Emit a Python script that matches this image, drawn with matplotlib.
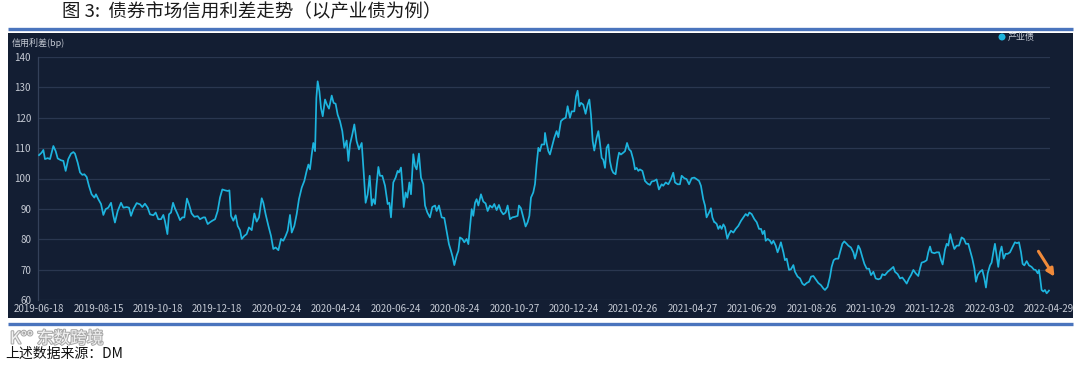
import matplotlib
matplotlib.use("Agg")
import matplotlib.pyplot as plt
import numpy as np
from matplotlib.patches import Rectangle, Ellipse
from matplotlib.lines import Line2D
import matplotlib.patheffects as pe

plt.rcParams['font.family'] = ['Noto Sans CJK SC', 'DejaVu Sans']

# ---------------- data (trading-day index, credit spread in bp) ----------------
tick_dates = ["2019-06-18", "2019-08-15", "2019-10-18", "2019-12-18", "2020-02-24",
              "2020-04-24", "2020-06-24", "2020-08-24", "2020-10-27", "2020-12-24",
              "2021-02-26", "2021-04-27", "2021-06-29", "2021-08-26", "2021-10-29",
              "2021-12-28", "2022-03-02", "2022-04-29"]
tick_step = 41  # trading days between labelled dates

day_idx_1 = [0, 1.8, 3.0, 4.1, 6.0, 7.6, 8.7, 9.9, 11.5, 12.9, 15.2, 16.8, 18.4, 20.2, 22.1,
             23.7, 24.8, 26.7, 28.3, 29.9, 31.3, 32.9, 34.5, 36.3, 38.2, 39.3, 40.9, 42.8, 44.4, 46.0,
             47.8, 49.7, 51.3, 52.4, 54.3, 56.6, 58.2, 60.5, 62.1, 63.5, 65.1, 67.4, 69.7, 71.3, 73.1,
             75.0, 76.6, 78.9, 80.5, 82.3, 84.2, 85.8, 86.9, 88.6, 89.7, 91.1, 92.5, 93.8, 95.7, 97.3,
             98.9, 100.3, 102.1, 103.5, 105.3, 107.2, 109.5, 111.1, 113.4]
spread_1 = [107.7, 108.5, 109.4, 106.4, 106.7, 106.4, 108.5, 110.7, 109.0, 106.6, 106.0, 105.8, 102.5, 106.4, 108.2,
            108.7, 108.2, 105.2, 102.0, 101.2, 101.4, 100.5, 97.5, 94.8, 93.7, 94.8, 93.2, 91.6, 88.0, 89.9,
            90.4, 92.0, 87.7, 85.5, 89.3, 92.0, 90.4, 90.6, 90.4, 87.7, 89.9, 91.9, 91.5, 90.6, 91.7,
            90.4, 88.2, 87.9, 88.8, 86.6, 86.6, 88.0, 86.0, 81.7, 88.2, 88.8, 92.0, 90.2, 88.2, 86.3,
            87.2, 87.2, 93.4, 91.5, 88.5, 87.4, 87.6, 86.6, 87.2]

day_idx_2 = [114.6, 116.4, 118.0, 119.6, 121.5, 123.3, 124.9, 126.5, 128.4, 130.2, 131.4, 132.5, 134.1, 135.7,
             137.1, 138.7, 139.9, 141.7, 143.3, 144.9, 146.8, 148.6, 150.2, 151.8, 153.7, 154.8, 156.4, 158.3,
             160.1, 161.7, 163.3, 165.2, 167.0, 168.6, 170.2, 171.6, 173.2, 174.4, 176.2, 177.8, 179.4, 181.3,
             183.1, 184.7, 185.9, 187.0, 188.2, 189.3, 190.5, 191.4, 192.3, 193.5, 194.6, 195.8, 197.4, 198.7,
             200.1, 202.0, 203.3, 204.7, 206.1, 207.7, 209.3, 210.7, 212.3, 213.5, 214.6, 216.2, 217.6, 219.2,
             220.8, 222.7, 224.0, 225.4, 226.8, 228.2, 229.6, 230.7]
spread_2 = [87.2, 85.0, 85.6, 86.1, 86.6, 89.3, 93.7, 96.4, 96.1, 95.9, 96.1, 87.7, 86.1, 87.9,
            84.4, 83.0, 80.1, 81.1, 81.7, 83.9, 83.0, 88.5, 85.8, 87.2, 93.5, 92.0, 88.2, 84.4,
            81.1, 76.8, 77.3, 76.4, 80.1, 79.5, 81.1, 82.8, 88.0, 82.2, 84.4, 88.2, 93.2, 97.0,
            99.2, 102.5, 104.6, 103.0, 107.9, 111.7, 109.0, 126.5, 132.0, 128.7, 123.2, 120.5, 126.0, 124.3,
            123.0, 127.3, 124.9, 124.6, 121.0, 118.9, 115.6, 110.1, 112.5, 105.8, 111.2, 114.5, 117.8, 112.3,
            109.6, 111.7, 102.5, 92.0, 94.8, 100.9, 91.1, 93.2]

day_idx_3 = [231.9, 233.0, 234.2, 235.3, 236.9, 238.8, 240.6, 241.8, 242.9, 244.5, 246.1, 247.5, 248.4, 249.8,
             250.7, 251.7, 253.0, 254.2, 255.6, 256.7, 258.3, 259.5, 260.6, 262.2, 263.6, 265.2, 266.4, 268.0,
             269.8, 271.4, 273.3, 274.4, 276.0, 277.9, 279.7, 281.3, 282.9, 284.3, 285.5, 286.6, 288.2, 289.4,
             290.5, 292.1, 293.5, 295.1, 296.3, 297.4, 298.6, 299.7, 300.9, 302.0, 303.2, 305.0, 306.6, 308.2,
             309.6, 311.2, 312.8, 314.2, 315.8, 317.4, 318.8, 320.4, 322.0, 323.4, 325.0, 326.6, 328.5, 330.3,
             331.2, 332.6, 334.2, 335.8, 337.2, 338.4, 339.5, 341.1, 342.3, 343.4, 344.6, 345.7, 346.9, 348.7]
spread_3 = [91.6, 98.2, 103.8, 100.9, 100.9, 97.6, 91.6, 92.0, 87.2, 98.7, 100.3, 102.5, 102.0, 103.6,
            98.2, 90.6, 95.4, 93.7, 98.7, 94.8, 108.0, 104.1, 103.0, 108.2, 100.3, 98.2, 91.1, 88.8,
            87.2, 90.6, 91.1, 89.3, 91.1, 87.2, 87.0, 82.8, 78.4, 76.2, 74.1, 71.5, 74.6, 76.2,
            80.6, 80.1, 79.0, 80.1, 78.4, 83.9, 89.9, 87.7, 92.0, 93.2, 91.1, 94.8, 92.4, 91.8,
            89.3, 91.1, 90.4, 91.6, 89.6, 91.3, 89.3, 88.2, 88.8, 91.1, 86.6, 87.2, 87.4, 87.7,
            91.1, 90.2, 87.2, 84.2, 85.6, 87.7, 93.7, 95.4, 98.2, 104.6, 110.1, 109.0, 111.2, 111.2]

day_idx_4 = [349.2, 350.3, 351.5, 352.6, 353.8, 355.6, 357.2, 358.4, 360.2, 361.8, 363.5, 364.8, 366.4, 367.6,
             369.4, 370.6, 371.7, 372.9, 374.0, 375.6, 377.2, 378.6, 379.8, 380.9, 382.1, 383.2, 384.8, 386.0,
             387.1, 388.3, 389.4, 390.6, 391.7, 392.9, 394.0, 395.2, 396.3, 397.9, 399.3, 400.3, 401.6, 403.2,
             404.4, 405.8, 407.2, 408.5, 410.1, 411.3, 412.4, 413.6, 414.7, 416.4, 418.2, 420.0, 421.6, 422.8,
             424.6, 426.2, 427.8, 429.7, 430.8, 432.5, 434.3, 436.1, 437.7, 438.9, 440.7, 442.3, 443.5, 445.3,
             446.9, 448.6, 450.4, 452.2, 453.8, 455.5, 456.8, 458.4, 459.6, 460.7, 462.4, 463.7, 464.7, 466.0]
spread_4 = [115.0, 111.7, 109.0, 107.9, 110.1, 113.4, 115.6, 113.6, 118.9, 119.6, 120.0, 123.8, 120.0, 122.1,
            122.1, 127.0, 128.9, 123.8, 124.9, 124.3, 121.3, 124.3, 126.0, 121.0, 112.3, 109.2, 113.4, 115.6,
            111.7, 106.8, 106.2, 103.5, 110.1, 111.2, 105.7, 103.0, 101.9, 101.4, 106.2, 108.5, 107.9, 108.5,
            109.0, 111.7, 109.6, 109.0, 106.2, 103.0, 103.5, 102.5, 103.0, 102.5, 99.2, 98.3, 97.9, 99.0,
            99.2, 99.7, 96.4, 98.1, 97.6, 98.7, 98.1, 99.8, 101.9, 98.7, 98.1, 98.1, 100.9, 100.1,
            99.8, 98.1, 100.1, 100.3, 99.8, 99.2, 97.6, 93.2, 91.1, 87.2, 88.8, 90.2, 87.2, 85.6]

day_idx_5 = [466.5, 467.7, 468.8, 470.0, 471.1, 472.3, 473.4, 475.0, 476.2, 477.5, 479.2, 480.8, 482.6, 484.5,
             486.1, 487.7, 489.1, 490.2, 491.8, 493.7, 495.3, 496.9, 498.3, 499.4, 500.6, 501.5, 502.9, 504.5,
             505.6, 506.8, 508.4, 509.7, 510.9, 512.0, 513.7, 514.8, 516.0, 517.6, 518.9, 520.6, 521.7, 523.5,
             525.2, 526.8, 528.2, 529.8, 531.4, 532.8, 534.4, 536.0, 537.8, 539.6, 541.3, 542.4, 544.2, 545.9,
             547.0, 548.4, 549.8, 551.6, 552.8, 554.4, 555.7, 557.4, 558.5, 560.3, 562.0, 563.1, 564.3, 565.4,
             566.6, 568.2, 569.6, 571.2, 572.8, 574.2, 575.8, 577.4, 579.2, 580.8, 582.0, 583.3]
spread_5 = [85.6, 85.0, 83.4, 84.4, 83.4, 84.9, 84.0, 80.2, 81.7, 82.8, 82.2, 83.4, 84.4, 86.1,
            87.2, 88.3, 87.7, 88.8, 88.3, 86.6, 85.6, 83.4, 83.4, 81.7, 82.8, 79.5, 80.1, 79.5,
            78.5, 79.5, 77.9, 75.7, 77.3, 79.0, 75.7, 73.1, 73.6, 69.9, 70.1, 71.5, 69.3, 67.7,
            67.1, 65.4, 64.9, 65.6, 66.0, 67.7, 67.9, 66.8, 65.6, 64.9, 63.8, 63.3, 64.3, 67.7,
            70.9, 73.1, 73.6, 73.6, 75.7, 78.5, 79.3, 78.5, 77.9, 77.3, 75.7, 73.6, 75.7, 77.9,
            76.8, 74.1, 71.9, 70.3, 70.3, 68.2, 69.3, 67.1, 66.8, 67.1, 68.5, 68.2]

day_idx_6 = [583.8, 585.7, 587.3, 588.4, 589.6, 590.7, 592.6, 594.2, 595.8, 597.2, 598.8, 600.4, 601.8, 603.4,
             605.0, 606.8, 608.0, 609.1, 611.0, 612.6, 613.7, 614.9, 616.0, 617.9, 619.5, 621.1, 622.5, 623.6,
             625.2, 626.4, 627.5, 628.9, 630.3, 631.7, 633.3, 634.9, 636.7, 638.3, 639.7, 641.3, 642.9, 644.1,
             645.5, 646.6, 647.8, 649.4, 651.0, 652.4, 653.5, 654.7, 656.3, 657.4, 658.6, 659.7, 660.9, 662.0,
             663.2, 664.3, 665.7, 667.1, 668.5, 670.1, 671.7, 673.5, 674.9, 676.3, 677.7, 678.8, 680.0, 681.6,
             683.2, 685.0, 686.6, 687.8, 689.2, 690.1, 691.0, 691.9, 693.1, 694.2, 695.4, 696.5, 697.0]
spread_6 = [68.2, 69.3, 69.9, 70.4, 70.9, 69.3, 68.5, 67.1, 67.4, 66.5, 65.4, 67.1, 68.2, 69.9,
            68.8, 67.9, 70.4, 72.3, 72.6, 73.1, 75.7, 77.6, 75.7, 75.4, 75.7, 75.7, 73.1, 71.7,
            76.5, 78.5, 77.9, 81.7, 79.0, 76.8, 77.9, 77.9, 80.6, 80.1, 78.5, 78.5, 75.7, 73.6,
            70.4, 66.0, 68.2, 69.3, 69.9, 67.1, 64.1, 68.8, 71.4, 72.3, 75.7, 78.5, 74.6, 70.9,
            75.7, 77.6, 73.6, 75.2, 75.2, 75.7, 77.3, 79.0, 78.7, 79.0, 75.7, 71.9, 71.4, 72.8,
            71.4, 70.9, 70.0, 69.9, 68.8, 69.9, 66.8, 63.3, 62.8, 63.3, 62.2, 62.8, 63.1]

series_name = "产业债"

day_idx = np.concatenate([day_idx_1, day_idx_2, day_idx_3, day_idx_4, day_idx_5, day_idx_6])
spread = np.concatenate([spread_1, spread_2, spread_3, spread_4, spread_5, spread_6])

# ---------------- figure ----------------
W, H = 1080, 369
fig = plt.figure(figsize=(W / 100, H / 100), dpi=100)
fig.patch.set_facecolor('white')


def fx(px):
    return px / W


def fy(py):
    return 1 - py / H


panel_color = '#131e33'
text_col = '#c5cad4'
grid_col = '#2a3750'
line_col = '#1db4de'

# dark panel
fig.add_artist(Rectangle((fx(8), fy(318)), fx(1073) - fx(8), fy(33) - fy(318),
                         transform=fig.transFigure, facecolor=panel_color,
                         edgecolor='none', zorder=0))
# blue rules
for yy in (28.5, 324):
    fig.add_artist(Line2D([fx(8), fx(1073)], [fy(yy), fy(yy)], transform=fig.transFigure,
                          color='#4a74bd', lw=2.4, zorder=1, solid_capstyle='butt'))

# title
fig.text(fx(62), fy(12), "图 3:  债券市场信用利差走势（以产业债为例）", fontsize=13.3,
         color='#1a1a1a', va='center', ha='left')

# axes
ax = fig.add_axes([fx(38), fy(300), fx(1050) - fx(38), fy(57) - fy(300)])
ax.set_facecolor('none')
ax.plot(day_idx, spread, color=line_col, lw=1.25, zorder=3)
ax.set_ylim(60, 140)
ax.set_yticks(np.arange(60, 141, 10))
ax.set_xlim(-0.7, 697.7)
ax.set_xticks([i * tick_step for i in range(len(tick_dates))])
ax.set_xticklabels(tick_dates)
ax.grid(axis='y', color=grid_col, lw=0.9)
ax.grid(axis='x', visible=False)
for s in ('top', 'right', 'bottom'):
    ax.spines[s].set_visible(False)
ax.spines['left'].set_color('#34415a')
ax.spines['left'].set_linewidth(0.9)
ax.tick_params(axis='both', length=0, colors=text_col, labelsize=7)
ax.tick_params(axis='y', pad=5)
ax.tick_params(axis='x', pad=3)

# arrow
ax.annotate('', xy=(701.8, 66.9), xytext=(688.7, 76.8),
            arrowprops=dict(arrowstyle='-|>', color='#f08a3a', lw=2.2, mutation_scale=11),
            annotation_clip=False, zorder=5)

# y axis name
fig.text(fx(12), fy(43), "信用利差(bp)", fontsize=6.5, color=text_col, va='center', ha='left')

# legend
fig.add_artist(Ellipse((fx(1002), fy(37)), width=7 / W, height=7 / H, transform=fig.transFigure,
                       facecolor=line_col, edgecolor='none'))
fig.text(fx(1008), fy(37), series_name, fontsize=6.5, color=text_col, va='center', ha='left')

# source
fig.text(fx(5), fy(354), "上述数据来源：DM", fontsize=10, color='#111111', va='center', ha='left')
fig.text(fx(10), fy(339), "K°° 东数跨境", fontsize=12, color='white', alpha=0.85, va='center', ha='left',
         path_effects=[pe.withStroke(linewidth=1.5, foreground='#9a9a9a')])

fig.savefig('out.png', dpi=100, facecolor='white')
